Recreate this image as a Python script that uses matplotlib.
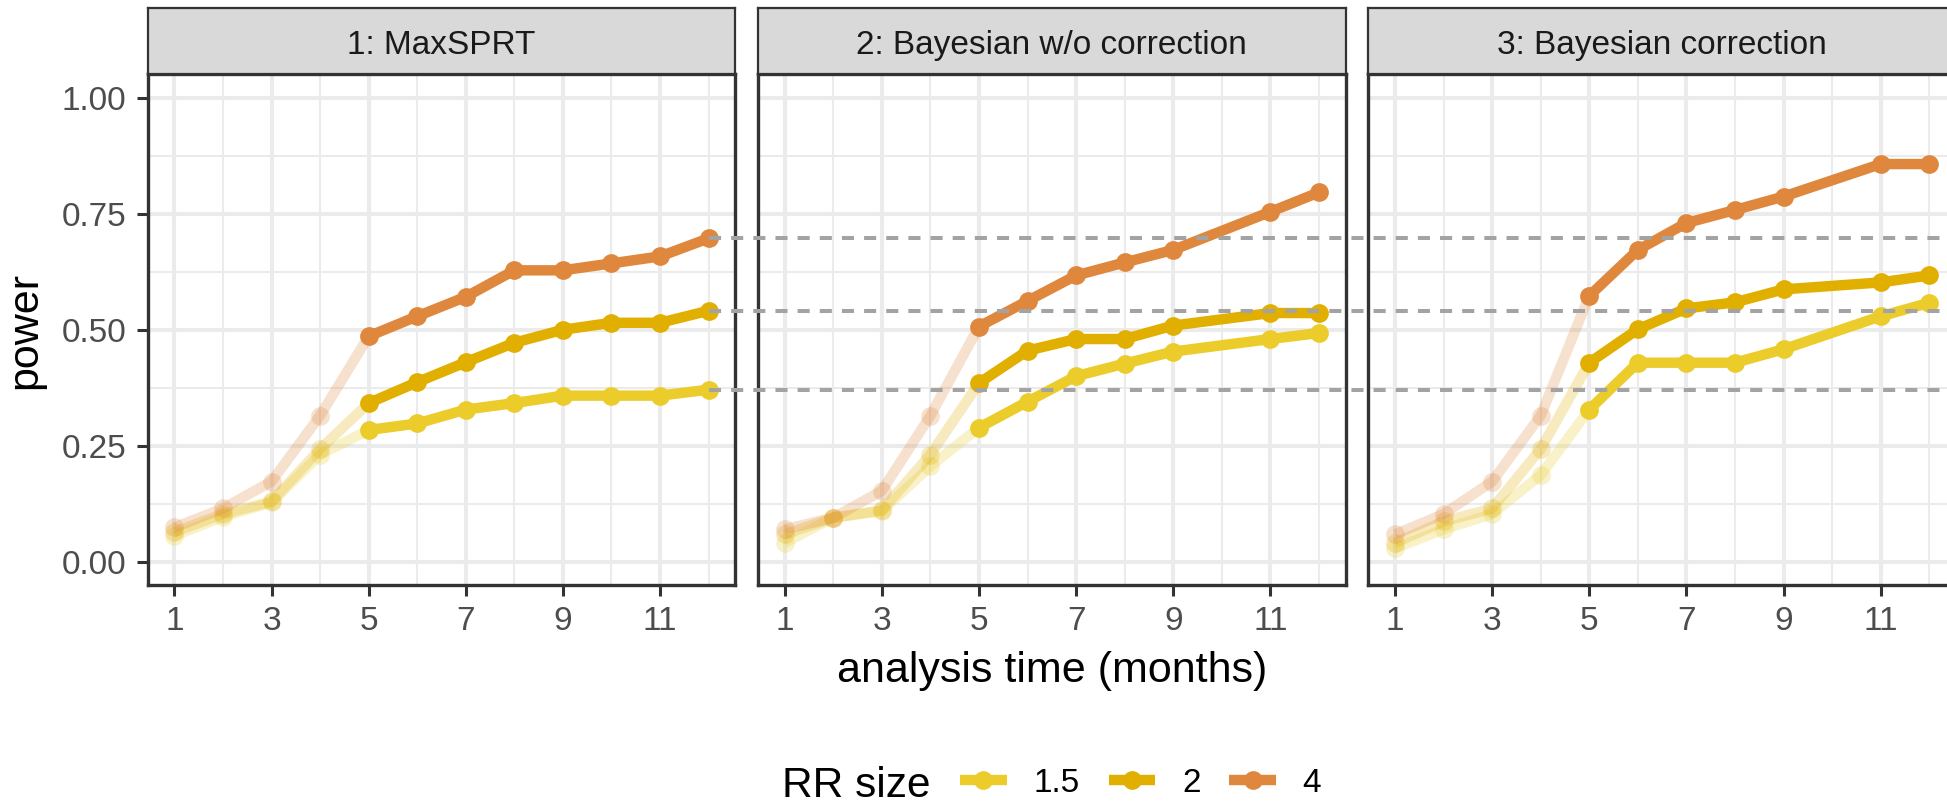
import matplotlib
matplotlib.use("Agg")
import matplotlib.pyplot as plt
from matplotlib.lines import Line2D
import numpy as np

plt.rcParams['font.family'] = ['Liberation Sans', 'DejaVu Sans']

# ---------------- data ----------------
months = [1, 2, 3, 4, 5, 6, 7, 8, 9, 10, 11, 12]
panel_titles = ["1: MaxSPRT", "2: Bayesian w/o correction", "3: Bayesian correction"]
rr_sizes = ["1.5", "2", "4"]
rr_colors = ["#EBCC2A", "#E1AF00", "#DF873D"]

nan = float("nan")
# Panel 1: MaxSPRT
p1_rr15 = [0.056, 0.097, 0.128, 0.231, 0.284, 0.298, 0.328, 0.342, 0.358, 0.358, 0.358, 0.371]
p1_rr2 = [0.064, 0.103, 0.130, 0.243, 0.342, 0.387, 0.430, 0.472, 0.500, 0.515, 0.515, 0.541]
p1_rr4 = [0.074, 0.115, 0.173, 0.315, 0.486, 0.529, 0.571, 0.628, 0.628, 0.643, 0.658, 0.697]
# Panel 2: Bayesian w/o correction (month 10 not analysed)
p2_rr15 = [0.041, 0.095, 0.109, 0.206, 0.289, 0.345, 0.400, 0.427, 0.453, nan, 0.480, 0.493]
p2_rr2 = [0.059, 0.095, 0.111, 0.231, 0.385, 0.455, 0.480, 0.480, 0.509, nan, 0.536, 0.536]
p2_rr4 = [0.070, 0.095, 0.153, 0.315, 0.507, 0.562, 0.617, 0.645, 0.672, nan, 0.754, 0.796]
# Panel 3: Bayesian correction (month 10 not analysed)
p3_rr15 = [0.029, 0.070, 0.103, 0.187, 0.328, 0.429, 0.429, 0.429, 0.458, nan, 0.529, 0.558]
p3_rr2 = [0.041, 0.087, 0.115, 0.243, 0.429, 0.501, 0.546, 0.559, 0.587, nan, 0.602, 0.617]
p3_rr4 = [0.059, 0.103, 0.173, 0.315, 0.573, 0.672, 0.730, 0.758, 0.787, nan, 0.857, 0.857]

panel_data = [[p1_rr15, p1_rr2, p1_rr4],
              [p2_rr15, p2_rr2, p2_rr4],
              [p3_rr15, p3_rr2, p3_rr4]]
fade_until = 5  # months before this are shown faded

x_ticks = [1, 3, 5, 7, 9, 11]
y_ticks = [0.0, 0.25, 0.5, 0.75, 1.0]
y_ticklabels = ["0.00", "0.25", "0.50", "0.75", "1.00"]

# ---------------- layout ----------------
W, H = 1947, 805
DPI = 100
fig = plt.figure(figsize=(W / DPI, H / DPI), dpi=DPI, facecolor="white")

def fx(px):
    return px / W

def fy(py):
    return 1 - py / H

lefts_px = [147.7, 758.0, 1368.3]
width_px = 587.6
top_px, bottom_px = 74.5, 585.0
strip_top_px = 7.6

LW = 7.5
MS = 13.5
FADE = 0.25
BORDER = "#333333"
GRID = "#EBEBEB"

axes = []
for i, l in enumerate(lefts_px):
    ax = fig.add_axes([fx(l), fy(bottom_px), width_px / W, (bottom_px - top_px) / H])
    ax.set_facecolor("white")
    ax.set_xlim(0.45, 12.55)
    ax.set_ylim(-0.05, 1.05)
    ax.set_xticks(x_ticks)
    ax.set_xticks([2, 4, 6, 8, 10, 12], minor=True)
    ax.set_yticks(y_ticks)
    ax.set_yticks([0.125, 0.375, 0.625, 0.875], minor=True)
    ax.set_yticklabels(y_ticklabels)
    ax.set_axisbelow(True)
    ax.grid(which="major", color=GRID, lw=2.9)
    ax.grid(which="minor", color=GRID, lw=1.5)
    for s in ax.spines.values():
        s.set_color(BORDER)
        s.set_linewidth(2.4)
        s.set_zorder(6)
    ax.tick_params(which="major", length=7.9, width=2.2, color=BORDER,
                   labelsize=24, labelcolor="#4D4D4D", pad=7.5)
    ax.tick_params(which="minor", length=0)
    if i > 0:
        ax.tick_params(axis="y", which="both", left=False, labelleft=False)

    series = panel_data[i]
    m = np.array(months, dtype=float)
    # faded early part
    for vals, c in zip(series, rr_colors):
        v = np.array(vals, dtype=float)
        ok = ~np.isnan(v)
        f = ok & (m <= fade_until)
        ax.plot(m[f], v[f], color=c, lw=LW, alpha=FADE, solid_capstyle="butt", zorder=3)
        fp = ok & (m < fade_until)
        ax.plot(m[fp], v[fp], "o", color=c, ms=MS, mec="none", alpha=FADE, zorder=3)
    # solid later part
    for vals, c in zip(series, rr_colors):
        v = np.array(vals, dtype=float)
        ok = ~np.isnan(v)
        s = ok & (m >= fade_until)
        ax.plot(m[s], v[s], color=c, lw=LW, marker="o", ms=MS, mec="none",
                solid_capstyle="butt", zorder=4)

    # strip
    sax = fig.add_axes([fx(l), fy(top_px), width_px / W, (top_px - strip_top_px) / H])
    sax.set_facecolor("#D9D9D9")
    sax.set_xticks([])
    sax.set_yticks([])
    for s in sax.spines.values():
        s.set_color(BORDER)
        s.set_linewidth(1.6)
    sax.text(0.5, 0.311, panel_titles[i], transform=sax.transAxes, ha="center",
             va="baseline", fontsize=24, color="#1A1A1A")
    axes.append(ax)

# dashed reference lines at MaxSPRT final power
ax1 = axes[0]
for vals in panel_data[0]:
    ref = vals[-1]
    ln = Line2D([months[-1], 60], [ref, ref], transform=ax1.transData,
                color="#A3A3A3", lw=2.9, dashes=(3, 2.5), zorder=5)
    fig.add_artist(ln)

# axis titles
fig.text(fx(1052), fy(682), "analysis time (months)", fontsize=31,
         ha="center", va="baseline", color="black")
fig.text(fx(36), fy(330), "power", fontsize=31, rotation=90,
         rotation_mode="anchor", ha="center", va="baseline", color="black")

# legend
handles = [Line2D([], [], color=c, lw=LW, marker="o", ms=MS, mec="none",
                  solid_capstyle="butt") for c in rr_colors]
fig.legend(handles, rr_sizes, loc="center left", bbox_to_anchor=(fx(960), fy(783)),
           ncol=3, frameon=False, fontsize=24, handlelength=1.4,
           handletextpad=0.8, columnspacing=0.87, borderpad=0, borderaxespad=0)
fig.text(fx(782), fy(797), "RR size", fontsize=30.5, ha="left", va="baseline",
         color="black")

fig.savefig("out.png", dpi=DPI, facecolor="white")
